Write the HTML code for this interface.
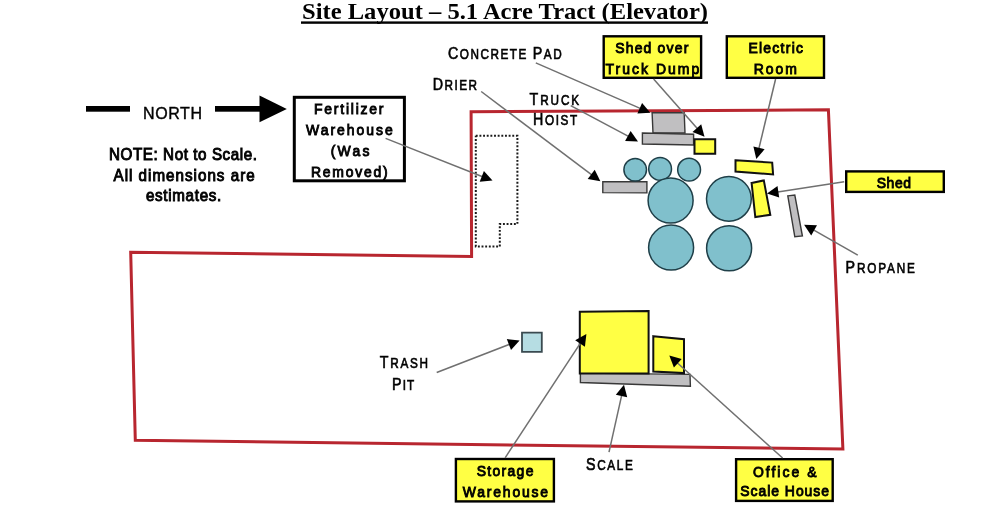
<!DOCTYPE html>
<html><head><meta charset="utf-8"><style>
html,body{margin:0;padding:0;background:#fff;width:1000px;height:531px;overflow:hidden}
svg{display:block}
</style></head><body>
<svg width="1000" height="531" viewBox="0 0 1000 531">
<polygon points="471.1,111.7 828.4,109.8 842.9,449.1 135.3,440.3 130.7,252.2 471.6,256.5" fill="none" stroke="#b8262f" stroke-width="3" stroke-linejoin="miter"/>
<polyline points="475.8,135.8 517.4,135.8 517.4,224 499.8,224 499.8,246.4 475.8,246.4 475.8,135.8" fill="none" stroke="#1a1a1a" stroke-width="2" stroke-dasharray="1.9 1.75"/>
<rect x="86" y="106" width="44" height="5.7" fill="#000"/>
<rect x="215" y="106" width="47" height="5.7" fill="#000"/>
<polygon points="259.5,95.6 286.8,108.9 259.5,122.2" fill="#000"/>
<rect x="294.3" y="97.3" width="110.1" height="83.5" fill="#fff" stroke="#000" stroke-width="3"/>
<rect x="603.7" y="36.3" width="97.4" height="41.5" fill="#ffff44" stroke="#000" stroke-width="2.4"/>
<rect x="726.8" y="36.3" width="97.2" height="41.5" fill="#ffff44" stroke="#000" stroke-width="2.4"/>
<rect x="846.2" y="171.4" width="97.6" height="20.5" fill="#ffff44" stroke="#000" stroke-width="2.4"/>
<rect x="455.9" y="459.0" width="98.0" height="42.4" fill="#ffff44" stroke="#000" stroke-width="2.4"/>
<rect x="736.1" y="459.2" width="96.6" height="41.7" fill="#ffff44" stroke="#000" stroke-width="2.4"/>
<polygon points="652.1,112.8 684.2,112.8 685.0,133.0 653.0,133.0" fill="#c0bfc1" stroke="#383838" stroke-width="1.4" stroke-linejoin="miter"/>
<polygon points="642.4,133.0 693.6,134.3 693.6,145.0 642.4,144.0" fill="#c0bfc1" stroke="#383838" stroke-width="1.4" stroke-linejoin="miter"/>
<polygon points="694.5,139.2 715.2,139.2 715.2,153.7 694.5,153.7" fill="#ffff44" stroke="#111" stroke-width="2.0" stroke-linejoin="miter"/>
<polygon points="602.8,181.6 646.9,181.8 646.9,192.9 602.8,192.6" fill="#c0bfc1" stroke="#383838" stroke-width="1.4" stroke-linejoin="miter"/>
<circle cx="635.2" cy="169.7" r="11.3" fill="#80c0cc" stroke="#1f3f48" stroke-width="1.5"/>
<circle cx="660.1" cy="168.9" r="11.4" fill="#80c0cc" stroke="#1f3f48" stroke-width="1.5"/>
<circle cx="689.1" cy="169.7" r="11.4" fill="#80c0cc" stroke="#1f3f48" stroke-width="1.5"/>
<circle cx="670.6" cy="200.5" r="22.5" fill="#80c0cc" stroke="#1f3f48" stroke-width="1.5"/>
<circle cx="728.9" cy="198.8" r="22.4" fill="#80c0cc" stroke="#1f3f48" stroke-width="1.5"/>
<circle cx="671.1" cy="247.6" r="22.5" fill="#80c0cc" stroke="#1f3f48" stroke-width="1.5"/>
<circle cx="729.1" cy="248.3" r="22.5" fill="#80c0cc" stroke="#1f3f48" stroke-width="1.5"/>
<polygon points="735.5,160.3 772.2,162.6 773.1,174.4 735.5,171.6" fill="#ffff44" stroke="#111" stroke-width="2.0" stroke-linejoin="miter"/>
<polygon points="751.6,182.9 763.8,180.4 770.3,214.8 755.3,217.1" fill="#ffff44" stroke="#111" stroke-width="2.0" stroke-linejoin="miter"/>
<polygon points="787.8,195.9 794.8,195.1 802.4,236.0 794.8,236.8" fill="#c0bfc1" stroke="#383838" stroke-width="1.4" stroke-linejoin="miter"/>
<polygon points="580.4,373.1 690.0,374.4 690.4,386.3 580.4,382.5" fill="#c0bfc1" stroke="#383838" stroke-width="1.4" stroke-linejoin="miter"/>
<polygon points="579.8,311.8 648.6,310.9 648.6,373.5 579.8,373.5" fill="#ffff44" stroke="#111" stroke-width="2.0" stroke-linejoin="miter"/>
<polygon points="653.3,336.2 684.0,339.2 684.0,373.1 653.3,371.6" fill="#ffff44" stroke="#111" stroke-width="2.0" stroke-linejoin="miter"/>
<polygon points="522.0,332.7 541.8,332.7 541.8,351.8 522.0,351.8" fill="#b6dde3" stroke="#3a4a50" stroke-width="1.8" stroke-linejoin="miter"/>
<line x1="535.8" y1="62.9" x2="641.9" y2="109.1" stroke="#707070" stroke-width="1.5"/><polygon points="650.3,112.8 637.4,113.5 642.1,102.9" fill="#000"/>
<line x1="570.7" y1="105.6" x2="629.9" y2="137.1" stroke="#707070" stroke-width="1.5"/><polygon points="638.0,141.4 625.1,141.1 630.6,130.9" fill="#000"/>
<line x1="653.6" y1="79.0" x2="698.4" y2="129.8" stroke="#707070" stroke-width="1.5"/><polygon points="704.5,136.7 692.5,131.9 701.2,124.2" fill="#000"/>
<line x1="481.2" y1="91.5" x2="593.1" y2="175.8" stroke="#707070" stroke-width="1.5"/><polygon points="600.4,181.3 587.7,179.0 594.7,169.7" fill="#000"/>
<line x1="775.6" y1="79.0" x2="758.5" y2="150.1" stroke="#707070" stroke-width="1.5"/><polygon points="756.3,159.0 753.4,146.5 764.6,149.2" fill="#000"/>
<line x1="385.6" y1="138.4" x2="483.9" y2="177.2" stroke="#707070" stroke-width="1.5"/><polygon points="492.5,180.6 479.7,181.8 483.9,171.0" fill="#000"/>
<line x1="505.1" y1="457.8" x2="581.4" y2="341.6" stroke="#707070" stroke-width="1.5"/><polygon points="586.4,333.9 584.9,346.7 575.2,340.3" fill="#000"/>
<line x1="782.6" y1="458.0" x2="676.1" y2="361.8" stroke="#707070" stroke-width="1.5"/><polygon points="669.3,355.6 681.7,359.0 673.9,367.6" fill="#000"/>
<line x1="609.0" y1="452.2" x2="622.0" y2="393.8" stroke="#707070" stroke-width="1.5"/><polygon points="624.0,384.8 627.2,397.3 615.8,394.8" fill="#000"/>
<line x1="844.2" y1="181.8" x2="776.1" y2="192.2" stroke="#707070" stroke-width="1.5"/><polygon points="767.0,193.6 777.5,186.1 779.2,197.6" fill="#000"/>
<line x1="857.8" y1="255.2" x2="812.1" y2="229.2" stroke="#707070" stroke-width="1.5"/><polygon points="804.1,224.7 817.0,225.3 811.2,235.4" fill="#000"/>
<line x1="436.7" y1="372.5" x2="511.0" y2="343.7" stroke="#707070" stroke-width="1.5"/><polygon points="519.6,340.4 511.0,350.0 506.8,339.1" fill="#000"/>
<g opacity="0.999">
<text x="302.0" y="19.2" textLength="406.0" lengthAdjust="spacingAndGlyphs" font-family="Liberation Serif" font-size="23.5" font-weight="bold" fill="#000">Site Layout – 5.1 Acre Tract (Elevator)</text>
<rect x="301" y="21.4" width="407" height="2.4" fill="#000"/>
<text x="143.0" y="118.8" textLength="59.0" lengthAdjust="spacing" font-family="Liberation Sans" font-size="16" font-weight="normal" fill="#000" stroke="#000" stroke-width="0.4">NORTH</text>
<g transform="translate(109.0,159.8) scale(0.95,1)"><text x="0" y="0" textLength="155.8" lengthAdjust="spacing" font-family="Liberation Sans" font-size="16" font-weight="normal" fill="#000" stroke="#000" stroke-width="0.95">NOTE: Not to Scale.</text></g>
<g transform="translate(113.5,180.6) scale(0.95,1)"><text x="0" y="0" textLength="148.6" lengthAdjust="spacing" font-family="Liberation Sans" font-size="16" font-weight="normal" fill="#000" stroke="#000" stroke-width="0.95">All dimensions are</text></g>
<g transform="translate(146.0,200.6) scale(0.95,1)"><text x="0" y="0" textLength="79.2" lengthAdjust="spacing" font-family="Liberation Sans" font-size="16" font-weight="normal" fill="#000" stroke="#000" stroke-width="0.95">estimates.</text></g>
<g transform="translate(314.0,114.0) scale(0.9,1)"><text x="0" y="0" textLength="77.2" lengthAdjust="spacing" font-family="Liberation Sans" font-size="15.5" font-weight="normal" fill="#000" stroke="#000" stroke-width="0.95">Fertilizer</text></g>
<g transform="translate(306.0,135.3) scale(0.9,1)"><text x="0" y="0" textLength="96.4" lengthAdjust="spacing" font-family="Liberation Sans" font-size="15.5" font-weight="normal" fill="#000" stroke="#000" stroke-width="0.95">Warehouse</text></g>
<g transform="translate(330.7,156.4) scale(0.9,1)"><text x="0" y="0" textLength="43.0" lengthAdjust="spacing" font-family="Liberation Sans" font-size="15.5" font-weight="normal" fill="#000" stroke="#000" stroke-width="0.95">(Was</text></g>
<g transform="translate(311.0,177.0) scale(0.9,1)"><text x="0" y="0" textLength="85.2" lengthAdjust="spacing" font-family="Liberation Sans" font-size="15.5" font-weight="normal" fill="#000" stroke="#000" stroke-width="0.95">Removed)</text></g>
<g transform="translate(615.2,52.6) scale(0.9,1)"><text x="0" y="0" textLength="81.3" lengthAdjust="spacing" font-family="Liberation Sans" font-size="15.5" font-weight="normal" fill="#000" stroke="#000" stroke-width="0.95">Shed over</text></g>
<g transform="translate(605.6,74.2) scale(0.9,1)"><text x="0" y="0" textLength="104.0" lengthAdjust="spacing" font-family="Liberation Sans" font-size="15.5" font-weight="normal" fill="#000" stroke="#000" stroke-width="0.95">Truck Dump</text></g>
<g transform="translate(748.4,52.6) scale(0.9,1)"><text x="0" y="0" textLength="60.7" lengthAdjust="spacing" font-family="Liberation Sans" font-size="15.5" font-weight="normal" fill="#000" stroke="#000" stroke-width="0.95">Electric</text></g>
<g transform="translate(753.7,74.2) scale(0.9,1)"><text x="0" y="0" textLength="48.0" lengthAdjust="spacing" font-family="Liberation Sans" font-size="15.5" font-weight="normal" fill="#000" stroke="#000" stroke-width="0.95">Room</text></g>
<g transform="translate(876.7,188.0) scale(0.9,1)"><text x="0" y="0" textLength="38.2" lengthAdjust="spacing" font-family="Liberation Sans" font-size="15.5" font-weight="normal" fill="#000" stroke="#000" stroke-width="0.95">Shed</text></g>
<g transform="translate(476.7,476.1) scale(0.9,1)"><text x="0" y="0" textLength="63.0" lengthAdjust="spacing" font-family="Liberation Sans" font-size="15.5" font-weight="normal" fill="#000" stroke="#000" stroke-width="0.95">Storage</text></g>
<g transform="translate(462.7,496.7) scale(0.9,1)"><text x="0" y="0" textLength="94.9" lengthAdjust="spacing" font-family="Liberation Sans" font-size="15.5" font-weight="normal" fill="#000" stroke="#000" stroke-width="0.95">Warehouse</text></g>
<g transform="translate(752.9,476.5) scale(0.9,1)"><text x="0" y="0" textLength="70.6" lengthAdjust="spacing" font-family="Liberation Sans" font-size="15.5" font-weight="normal" fill="#000" stroke="#000" stroke-width="0.95">Office &amp;</text></g>
<g transform="translate(740.3,495.8) scale(0.9,1)"><text x="0" y="0" textLength="98.6" lengthAdjust="spacing" font-family="Liberation Sans" font-size="15.5" font-weight="normal" fill="#000" stroke="#000" stroke-width="0.95">Scale House</text></g>
<g transform="translate(447.9,58.8) scale(0.84,1)"><text x="0" y="0" textLength="135.4" lengthAdjust="spacing" font-family="Liberation Sans" fill="#000" stroke="#000" stroke-width="0.65"><tspan font-size="17">C</tspan><tspan font-size="14">ONCRETE <tspan font-size="17">P</tspan>AD</tspan></text></g>
<g transform="translate(432.8,89.7) scale(0.84,1)"><text x="0" y="0" textLength="52.5" lengthAdjust="spacing" font-family="Liberation Sans" fill="#000" stroke="#000" stroke-width="0.65"><tspan font-size="17">D</tspan><tspan font-size="14">RIER</tspan></text></g>
<g transform="translate(529.6,105.2) scale(0.84,1)"><text x="0" y="0" textLength="58.9" lengthAdjust="spacing" font-family="Liberation Sans" fill="#000" stroke="#000" stroke-width="0.65"><tspan font-size="17">T</tspan><tspan font-size="14">RUCK</tspan></text></g>
<g transform="translate(533.0,125.4) scale(0.84,1)"><text x="0" y="0" textLength="52.6" lengthAdjust="spacing" font-family="Liberation Sans" fill="#000" stroke="#000" stroke-width="0.65"><tspan font-size="17">H</tspan><tspan font-size="14">OIST</tspan></text></g>
<g transform="translate(845.6,273.0) scale(0.84,1)"><text x="0" y="0" textLength="82.4" lengthAdjust="spacing" font-family="Liberation Sans" fill="#000" stroke="#000" stroke-width="0.65"><tspan font-size="17">P</tspan><tspan font-size="14">ROPANE</tspan></text></g>
<g transform="translate(379.7,368.4) scale(0.84,1)"><text x="0" y="0" textLength="57.5" lengthAdjust="spacing" font-family="Liberation Sans" fill="#000" stroke="#000" stroke-width="0.65"><tspan font-size="17">T</tspan><tspan font-size="14">RASH</tspan></text></g>
<g transform="translate(392.1,390.2) scale(0.84,1)"><text x="0" y="0" textLength="26.4" lengthAdjust="spacing" font-family="Liberation Sans" fill="#000" stroke="#000" stroke-width="0.65"><tspan font-size="17">P</tspan><tspan font-size="14">IT</tspan></text></g>
<g transform="translate(586.0,470.0) scale(0.84,1)"><text x="0" y="0" textLength="55.7" lengthAdjust="spacing" font-family="Liberation Sans" fill="#000" stroke="#000" stroke-width="0.65"><tspan font-size="17">S</tspan><tspan font-size="14">CALE</tspan></text></g>
</g>
</svg>
</body></html>
